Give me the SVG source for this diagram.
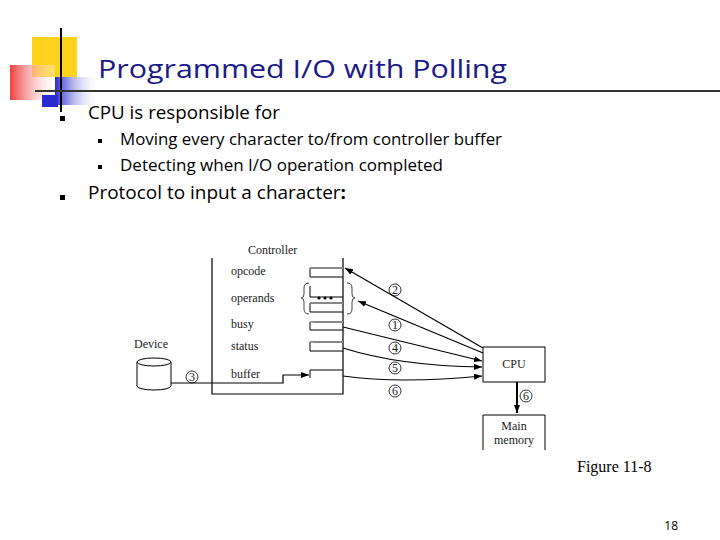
<svg xmlns="http://www.w3.org/2000/svg" width="720" height="540" viewBox="0 0 720 540">
<defs>
<marker id="ah" markerWidth="8" markerHeight="6" refX="8" refY="3" orient="auto" markerUnits="userSpaceOnUse"><path d="M0,0 L8,3 L0,6 z" fill="#000"/></marker>
<linearGradient id="rg" x1="0" x2="1"><stop offset="0" stop-color="#f04040"/><stop offset="1" stop-color="#ffffff" stop-opacity="0.3"/></linearGradient>
<linearGradient id="bg" x1="0" x2="1"><stop offset="0" stop-color="#2a2ad0"/><stop offset="1" stop-color="#ffffff" stop-opacity="0"/></linearGradient>
</defs>
<style>
.s{font-family:"Liberation Serif",serif;font-size:12px;fill:#222}
.t{font-family:"Open Sans","DejaVu Sans",sans-serif;fill:#000}
.ln{stroke:#000;fill:none;stroke-width:1.2}
.reg{fill:#fff;stroke:#000;stroke-width:1}
</style>
<g id="logo">
<rect x="32" y="37" width="45" height="40" fill="#ffd21e"/>
<rect x="10" y="65" width="45" height="35" fill="url(#rg)"/>
<rect x="55" y="77" width="45" height="28" fill="url(#bg)"/>
<rect x="42" y="95" width="16" height="12" fill="#2a2ad0"/>
<line x1="61" y1="28" x2="61" y2="112" stroke="#000" stroke-width="2"/>
<line x1="35" y1="91" x2="720" y2="91" stroke="#333" stroke-width="2"/>
</g>
<text class="t" x="98" y="78" font-size="26" textLength="409" lengthAdjust="spacingAndGlyphs" style="fill:#1a1a8c">Programmed I/O with Polling</text>
<g id="bullets" class="t">
<rect x="60" y="116" width="5" height="5" fill="#000"/>
<text x="88" y="119" font-size="18" class="t" textLength="192" lengthAdjust="spacingAndGlyphs">CPU is responsible for</text>
<rect x="98" y="139" width="4" height="4"/>
<text x="120" y="145" font-size="16" class="t" textLength="382" lengthAdjust="spacingAndGlyphs">Moving every character to/from controller buffer</text>
<rect x="98" y="165" width="4" height="4"/>
<text x="120" y="171" font-size="16" class="t" textLength="323" lengthAdjust="spacingAndGlyphs">Detecting when I/O operation completed</text>
<rect x="60" y="195" width="5" height="5"/>
<text x="88" y="199" font-size="18" class="t" textLength="258" lengthAdjust="spacingAndGlyphs">Protocol to input a character<tspan font-weight="bold">:</tspan></text>
</g>
<g id="controller">
<path class="ln" d="M212,258 V394 H343 V258"/>
<text class="s" x="248" y="254">Controller</text>
<text class="s" x="231" y="275">opcode</text>
<text class="s" x="231" y="302">operands</text>
<text class="s" x="231" y="328">busy</text>
<text class="s" x="231" y="350">status</text>
<text class="s" x="231" y="378">buffer</text>
<path class="reg" d="M310,268 H343 M310,268 V277 H343"/>
<line x1="310" y1="268" x2="343" y2="268" stroke="#888" stroke-width="2"/>
<path class="reg" d="M310,286 V297 H343"/>
<path class="reg" d="M310,303 V312 H343"/>
<line x1="310" y1="303" x2="343" y2="303" stroke="#888" stroke-width="2"/>
<line x1="310" y1="322" x2="343" y2="322" stroke="#888" stroke-width="2"/>
<path class="reg" d="M310,322 V330 H343"/>
<line x1="310" y1="342" x2="343" y2="342" stroke="#888" stroke-width="2"/>
<path class="reg" d="M310,342 V351 H343"/>
<path class="reg" d="M310,378 V370 H343"/>
<circle cx="319" cy="298" r="1.6"/><circle cx="325" cy="298" r="1.6"/><circle cx="331" cy="298" r="1.6"/>
<path d="M309,283 q-5,0 -5,5 v6 q0,4 -3,4 q3,0 3,4 v7 q0,5 5,5" fill="none" stroke="#444"/>
<path d="M347,283 q5,0 5,5 v6 q0,4 3,4 q-3,0 -3,4 v7 q0,5 -5,5" fill="none" stroke="#444"/>
</g>
<g id="device">
<path d="M137,362 V386 A17,4 0 0 0 171,386 V362" fill="#fff" stroke="#000"/>
<ellipse cx="154" cy="362" rx="17" ry="4" fill="#fff" stroke="#000"/>
<text class="s" x="134" y="348">Device</text>
</g>
<g id="cpu"><rect x="483" y="347" width="62" height="35" fill="#fff" stroke="#000"/><text class="s" x="514" y="368" text-anchor="middle">CPU</text></g>
<g id="memory"><path d="M483,450 V415 H545 V450" fill="#fff" stroke="#000"/><text class="s" font-size="11" x="514" y="430" text-anchor="middle">Main</text><text class="s" font-size="11" x="514" y="444" text-anchor="middle">memory</text></g>
<g id="connectors">
<path class="ln" d="M483,348 L345,268" marker-end="url(#ah)"/>
<path class="ln" d="M483,353 L358,301" marker-end="url(#ah)"/>
<path class="ln" d="M343,327 L482,361" marker-end="url(#ah)"/>
<path class="ln" d="M343,348 Q400,366 482,367" marker-end="url(#ah)"/>
<path class="ln" d="M343,376 Q400,384 482,376" marker-end="url(#ah)"/>
<path class="ln" d="M171,383 H283 V375 H309" marker-end="url(#ah)"/>
<path d="M517,382 V413" stroke="#000" stroke-width="2" marker-end="url(#ah)"/>
<g>
<circle cx="395" cy="290" r="6" fill="none" stroke="#000" stroke-width="0.8"/><text x="395" y="294" text-anchor="middle" class="s">2</text>
<circle cx="395" cy="325" r="6" fill="none" stroke="#000" stroke-width="0.8"/><text x="395" y="329" text-anchor="middle" class="s">1</text>
<circle cx="395" cy="348" r="6" fill="none" stroke="#000" stroke-width="0.8"/><text x="395" y="352" text-anchor="middle" class="s">4</text>
<circle cx="395" cy="368" r="6" fill="none" stroke="#000" stroke-width="0.8"/><text x="395" y="372" text-anchor="middle" class="s">5</text>
<circle cx="395" cy="391" r="6" fill="none" stroke="#000" stroke-width="0.8"/><text x="395" y="395" text-anchor="middle" class="s">6</text>
<circle cx="192" cy="377" r="6" fill="none" stroke="#000" stroke-width="0.8"/><text x="192" y="381" text-anchor="middle" class="s">3</text>
<circle cx="526" cy="396" r="6" fill="none" stroke="#000" stroke-width="0.8"/><text x="526" y="400" text-anchor="middle" class="s">6</text>
</g>
</g>
<text x="577" y="472" font-family="Liberation Serif,serif" font-size="16">Figure 11-8</text>
<text x="678" y="530" font-family="Open Sans,sans-serif" font-size="12" text-anchor="end">18</text>
</svg>
